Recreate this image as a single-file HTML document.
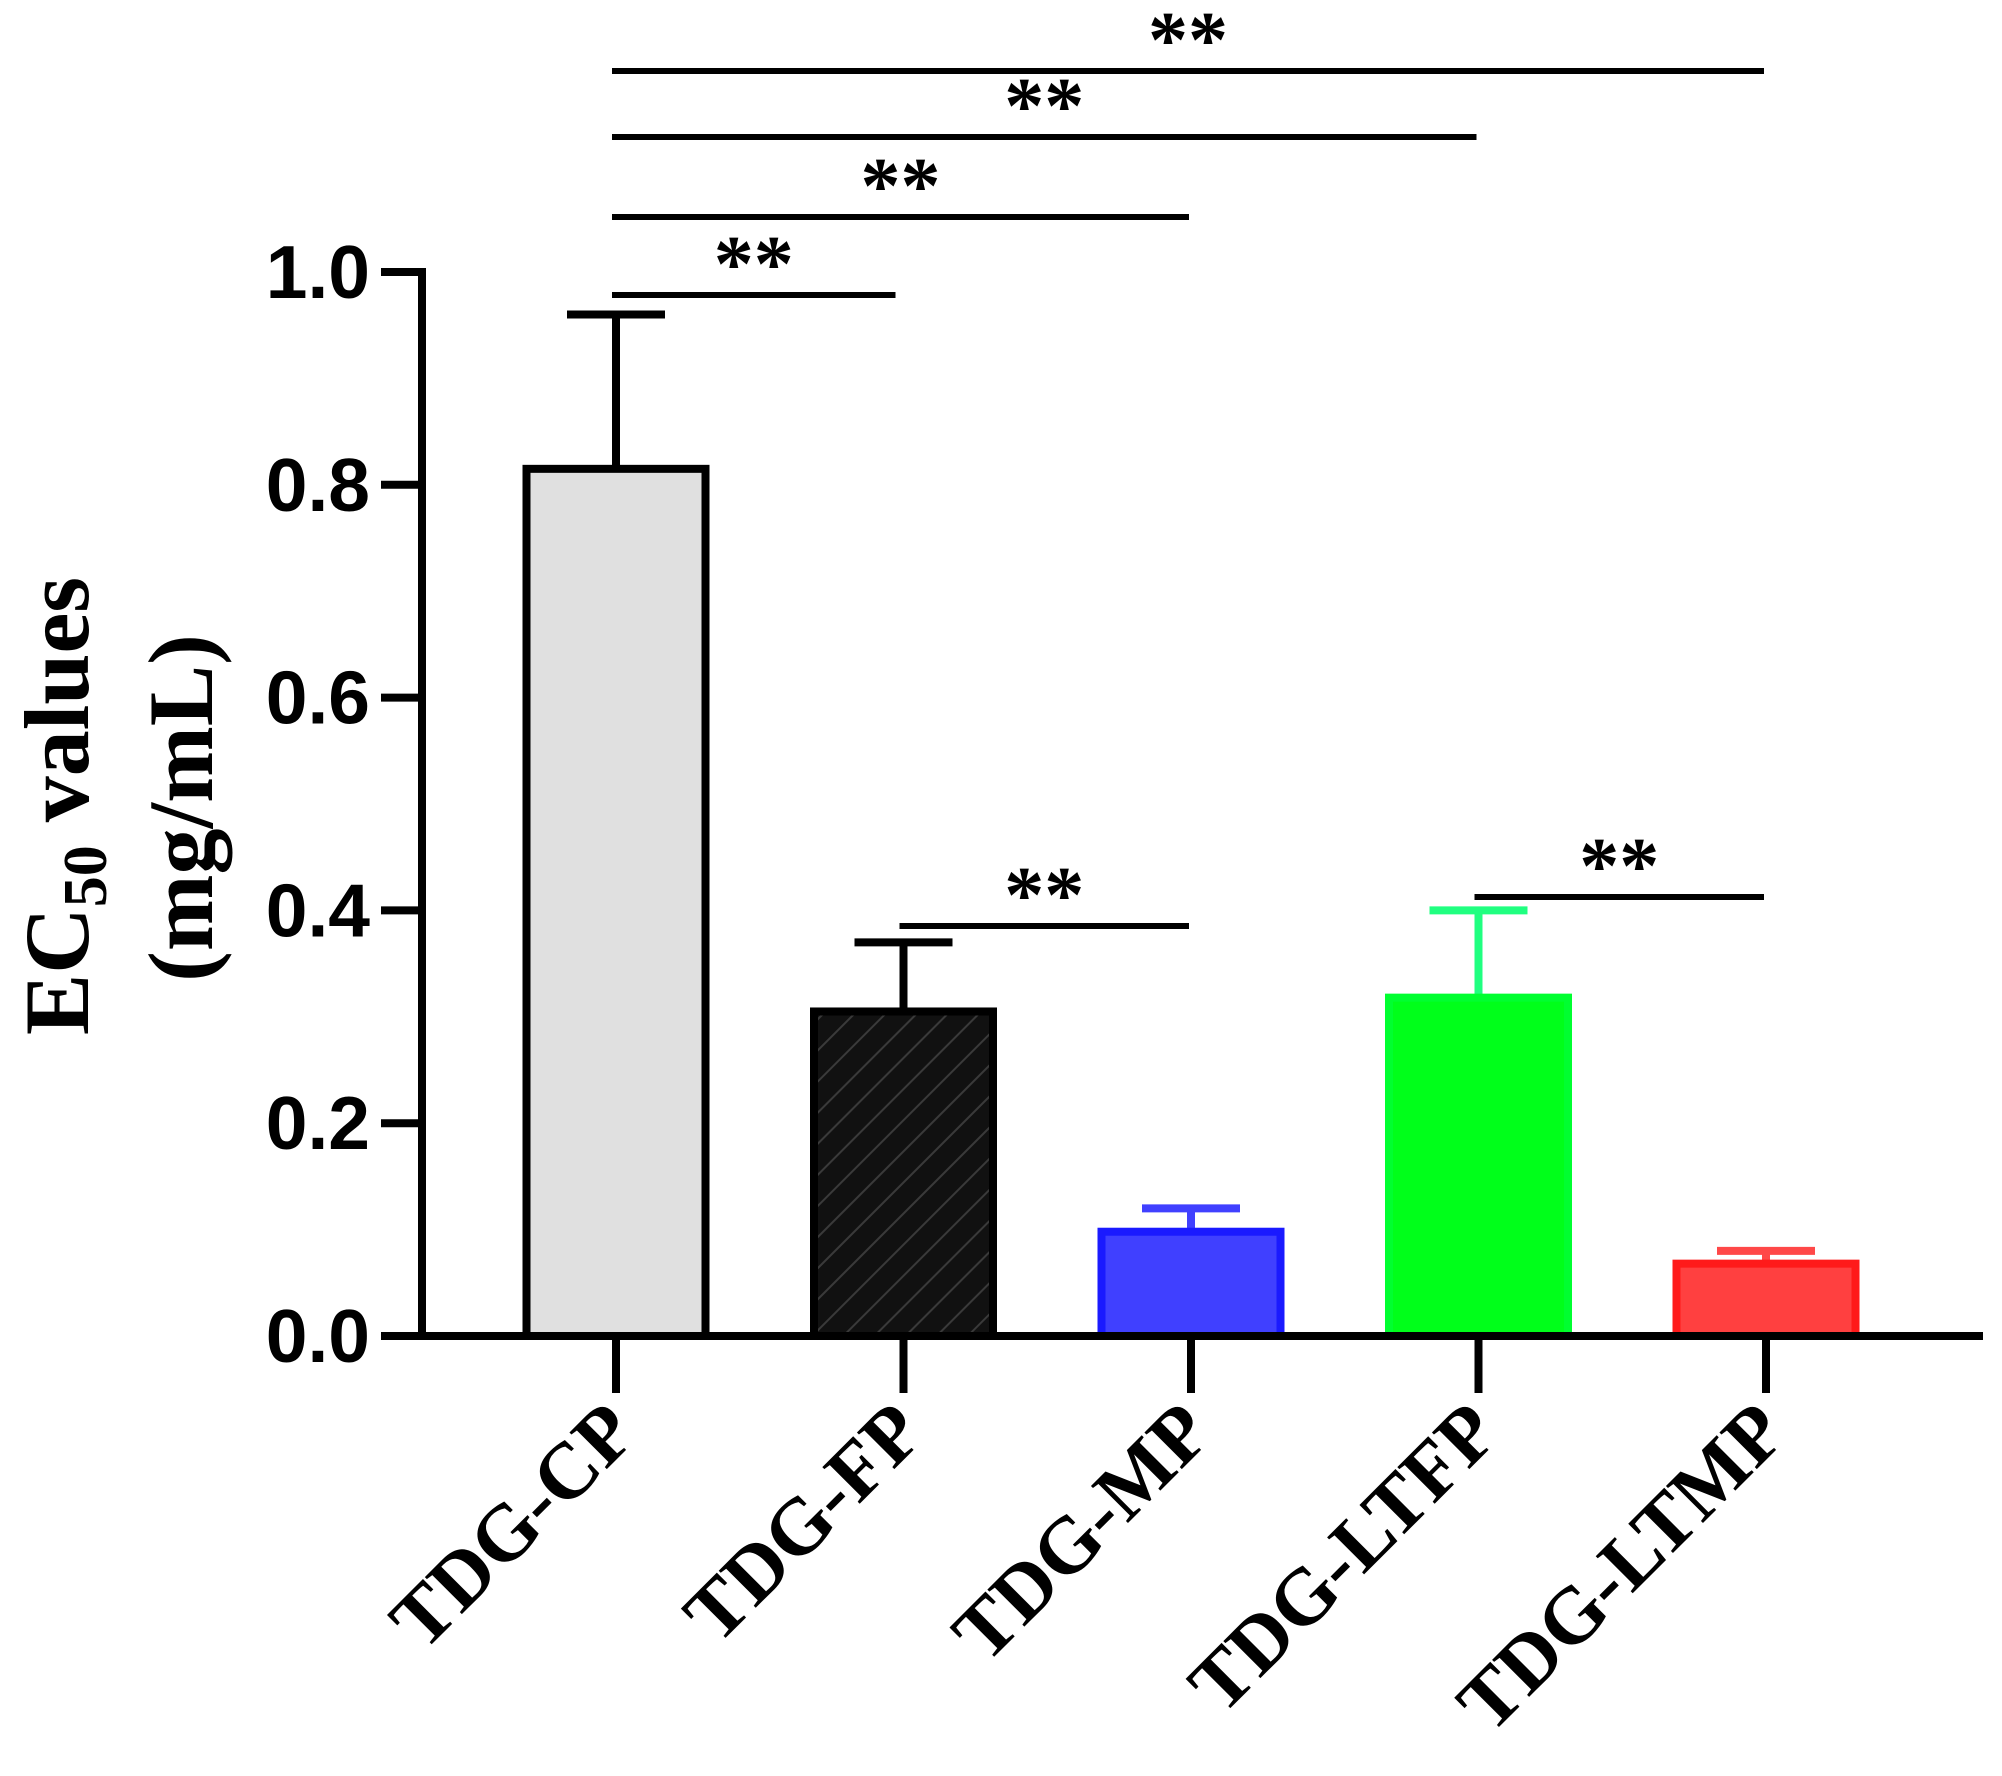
<!DOCTYPE html>
<html><head><meta charset="utf-8"><style>
html,body{margin:0;padding:0;background:#fff;}
svg{display:block;}
</style></head><body>
<svg id="chart" width="2002" height="1776" viewBox="0 0 2002 1776" xmlns="http://www.w3.org/2000/svg">
<defs>
<pattern id="hatch" patternUnits="userSpaceOnUse" width="22" height="22" patternTransform="rotate(45)">
<rect width="22" height="22" fill="#111"/>
<line x1="0" y1="0" x2="0" y2="22" stroke="#3a3a3a" stroke-width="4"/>
</pattern>
</defs>
<g id="plot"></g>
</svg>
<script>
const categories = ["TDG-CP","TDG-FP","TDG-MP","TDG-LTFP","TDG-LTMP"];
const values = [0.815, 0.305, 0.098, 0.318, 0.068];
const errors = [0.145, 0.065, 0.022, 0.082, 0.012];
const yTicks = [0, 0.2, 0.4, 0.6, 0.8, 1.0];
const yTickLabels = ["0.0","0.2","0.4","0.6","0.8","1.0"];
const sigFrom = [0, 0, 0, 0, 1, 3];
const sigTo = [4, 3, 2, 1, 2, 4];
const sigLabels = ["**","**","**","**","**","**"];

const fills = ["#e0e0e0","url(#hatch)","#4040ff","#00ff1a","#ff4040"];
const strokes = ["#000","#000","#1a1aff","#00ff30","#ff1a1a"];
const errColors = ["#000","#000","#4040ff","#20ff80","#ff4848"];

const NS = "http://www.w3.org/2000/svg";
const g = document.getElementById("plot");
const axX = 422, x0 = 381, x1 = 1983, yBase = 1336, yTop = 272;
function yScale(v){ return yBase - (v/1.0)*(yBase - yTop); }
function xScale(i){ return 616 + i*287.5; }
function mk(tag, attrs, parent){ const e=document.createElementNS(NS,tag); for(const k in attrs) e.setAttribute(k,attrs[k]); (parent||g).appendChild(e); return e; }

const bw = 187;
categories.forEach((c,i)=>{
  const cx = xScale(i), top = yScale(values[i]), et = yScale(values[i]+errors[i]);
  const err = mk("line",{x1:cx,x2:cx,y1:top,y2:et,stroke:errColors[i],"stroke-width":8});
  
  
  const cap = mk("line",{x1:cx-49,x2:cx+49,y1:et,y2:et,stroke:errColors[i],"stroke-width":8});
  
  
  const r = mk("rect",{x:cx-bw/2+4,y:top,width:bw-8,height:yBase-top,fill:fills[i],stroke:strokes[i],"stroke-width":8});
  
  
  const t = mk("line",{x1:cx,x2:cx,y1:yBase,y2:1393,stroke:"#000","stroke-width":8});
  
  
  const lx = cx+24, ly = 1436;
  const lab = mk("text",{x:lx,y:ly,transform:`rotate(-45 ${lx} ${ly})`,"text-anchor":"end","font-family":"Liberation Serif, serif","font-weight":"bold","font-size":80,fill:"#000"});
  lab.textContent = c;
  
  
});

const ya = mk("line",{x1:axX,x2:axX,y1:yTop-4,y2:yBase+4,stroke:"#000","stroke-width":8});


const xa = mk("line",{x1:x0,x2:x1,y1:yBase,y2:yBase,stroke:"#000","stroke-width":8});


yTicks.forEach((v,i)=>{
  const y = yScale(v);
  const t = mk("line",{x1:381,x2:axX,y1:y,y2:y,stroke:"#000","stroke-width":8});
  
  
  const l = mk("text",{x:370,y:y+26,"text-anchor":"end","font-family":"Liberation Sans, sans-serif","font-weight":"bold","font-size":75,fill:"#000"});
  l.textContent = yTickLabels[i];
  
  
});

const sigY = [71, 137, 217, 295, 926, 897];
sigFrom.forEach((a,i)=>{
  const xa1 = xScale(a)-4, xb = xScale(sigTo[i])+(sigTo[i]===1?-8:-2);
  const ln = mk("line",{x1:xa1,x2:xb,y1:sigY[i],y2:sigY[i],stroke:"#000","stroke-width":6});
  
  
  const st = mk("text",{x:(xa1+xb)/2,y:sigY[i]-4,"text-anchor":"middle","font-family":"Liberation Serif, serif","font-weight":"bold","font-size":80,fill:"#000"});
  st.textContent = sigLabels[i];
  
  
});

const t1 = mk("text",{x:0,y:0,transform:"translate(88 806) rotate(-90)","text-anchor":"middle","font-family":"Liberation Serif, serif","font-weight":"bold","font-size":92,fill:"#000"});
t1.innerHTML = 'EC<tspan font-size="62" dy="18">50</tspan><tspan dy="-18"> values</tspan>';


const t2 = mk("text",{x:0,y:0,transform:"translate(212 808) rotate(-90)","text-anchor":"middle","font-family":"Liberation Serif, serif","font-weight":"bold","font-size":92,fill:"#000"});
t2.textContent = "(mg/mL)";


</script>
</body></html>
